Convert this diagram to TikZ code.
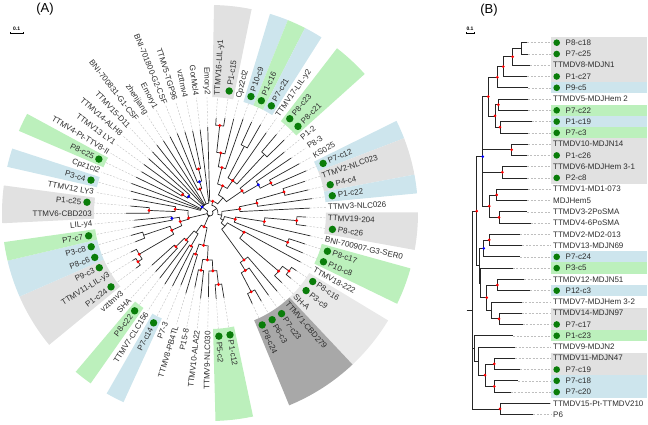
\documentclass[tikz,border=0pt]{standalone}
\usepackage{fontspec}
\setmainfont{Liberation Sans}
\usepackage{xcolor}

\definecolor{bandgray}{RGB}{225,225,225}
\definecolor{bandlight}{RGB}{233,233,233}
\definecolor{banddark}{RGB}{168,168,168}
\definecolor{bandblue}{RGB}{205,229,237}
\definecolor{bandgreen}{RGB}{188,240,188}
\definecolor{tipgreen}{RGB}{10,125,10}
\definecolor{labelgray}{RGB}{45,45,45}

\tikzset{
  branch/.style={draw=black!85, line width=0.7pt},
  guide/.style={draw=black!25, line width=0.4pt, dash pattern=on 2pt off 1.5pt},
  leaf/.style={inner sep=0pt, text=labelgray, font=\fontsize{8}{9}\selectfont},
  tipdot/.style={fill=tipgreen},
  rnode/.style={fill=red},
  bnode/.style={fill=blue},
  panel/.style={inner sep=0pt, font=\fontsize{13}{15}\selectfont},
  scalelbl/.style={inner sep=0pt, font=\bfseries\fontsize{5}{6}\selectfont},
}

% slot -> angle on the circle (clockwise, y runs down)
\newcommand{\ta}[1]{(-91.5+(#1-1)*5.217)}
% branch: arc at parent radius, then out to child radius
\newcommand{\br}[4]{\draw[branch] ({\ta{#1}}:#2) arc[start angle={\ta{#1}}, end angle={\ta{#3}}, radius=#2] -- ({\ta{#3}}:#4);}
% leaf branch with dotted guide to the label ring
\newcommand{\lf}[4]{\br{#1}{#2}{#3}{#4}\draw[guide] ({\ta{#3}}:#4) -- ({\ta{#3}}:116);}
% coloured band behind labels
\newcommand{\band}[3]{\fill[#1] ({\ta{#2-0.5}}:116) arc[start angle={\ta{#2-0.5}}, end angle={\ta{#3+0.5}}, radius=116] -- ({\ta{#3+0.5}}:208) arc[start angle={\ta{#3+0.5}}, end angle={\ta{#2-0.5}}, radius=208] -- cycle;}

\begin{document}
\begin{tikzpicture}[x=1pt,y=1pt,yscale=-1]
\useasboundingbox (0,0) rectangle (648,425);

% Text Node
\node[panel] (titleA) at (45,9) {(A)};
% Text Node
\node[panel] (titleB) at (489,10) {(B)};

% scale bars
\node[scalelbl] (sclA) at (16.7,29) {0.1};
\draw[line width=0.5pt] (10.5,31.8) -- (10.5,33.5) -- (23,33.5) -- (23,31.8);
\node[scalelbl] (sclB) at (470,29) {0.1};
\draw[line width=0.5pt] (466,31.8) -- (466,33.5) -- (474,33.5) -- (474,31.8);

%%%%%%%%%%%%%%%% (A) circular tree
\begin{scope}[shift={(210,213)}]
% bands
\foreach \c/\i/\j in {bandgray/2/3, bandblue/5/5, bandgreen/6/6, bandblue/7/7, bandgreen/9/10,
  bandblue/14/14, bandgray/15/16, bandblue/17/17, bandgray/19/20, bandgreen/22/23,
  bandlight/25/27, banddark/28/31, bandgreen/34/35, bandblue/41/41, bandgreen/43/43,
  bandgray/46/48, bandblue/49/50, bandgreen/51/51, bandgray/53/54, bandblue/56/56, bandgreen/58/58}
  {\band{\c}{\i}{\j}}

% top clade
\lf{2.5}{88}{2}{95} \lf{2.5}{88}{3}{96}
\br{3.25}{61}{2.5}{88} \lf{3.25}{61}{4}{97}
\br{4.1}{47}{3.25}{61} \lf{4.1}{47}{5}{100}
\lf{6.5}{75}{6}{100} \lf{6.5}{75}{7}{102}
\lf{9.5}{80}{9}{103} \lf{9.5}{80}{10}{104}
\br{8}{39.5}{6.5}{75} \lf{8}{39.5}{8}{98} \br{8}{39.5}{9.5}{80}
\br{6.05}{30}{4.1}{47} \br{6.05}{30}{8}{39.5}
\lf{13.5}{68}{13}{102} \lf{13.5}{68}{14}{105}
\lf{12.75}{56}{12}{98} \br{12.75}{56}{13.5}{68}
\lf{11.9}{39}{11}{96} \br{11.9}{39}{12.75}{56}
\br{9}{20}{6.05}{30} \br{9}{20}{11.9}{39}
\lf{3.8}{12}{1}{86} \br{3.8}{12}{9}{20}
% right clade
\lf{15.5}{77}{15}{100} \lf{15.5}{77}{16}{101}
\br{16.25}{48}{15.5}{77} \lf{16.25}{48}{17}{103}
\br{17.1}{30}{16.25}{48} \lf{17.1}{30}{18}{100}
\lf{19.5}{87}{19}{96} \lf{19.5}{87}{20}{97}
\br{20.25}{55}{19.5}{87} \lf{20.25}{55}{21}{103}
\lf{22.5}{83}{22}{100} \lf{22.5}{83}{23}{101}
\br{21.2}{26}{20.25}{55} \br{21.2}{26}{22.5}{83}
\lf{25.5}{98}{25}{104} \lf{25.5}{98}{26}{104}
\br{26.25}{90}{25.5}{98} \lf{26.25}{90}{27}{100}
\lf{24.2}{39}{24}{103} \br{24.2}{39}{26.25}{90}
\lf{30.5}{89}{30}{102} \lf{30.5}{89}{31}{100}
\lf{29.75}{67.5}{29}{101} \br{29.75}{67.5}{30.5}{89}
\lf{28.9}{58}{28}{103} \br{28.9}{58}{29.75}{67.5}
\br{26.5}{20}{24.2}{39} \br{26.5}{20}{28.9}{58}
\br{24}{15}{21.2}{26} \br{24}{15}{26.5}{20}
\br{20.5}{12}{17.1}{30} \br{20.5}{12}{24}{15}
\br{12}{8}{3.8}{12} \br{12}{8}{20.5}{12}
% bottom clade
\lf{34.5}{72}{34}{86} \lf{34.5}{72}{35}{86}
\br{35.25}{58}{34.5}{72} \lf{35.25}{58}{36}{84}
\lf{37.5}{58}{37}{86} \lf{37.5}{58}{38}{76}
\br{36.4}{47}{35.25}{58} \br{36.4}{47}{37.5}{58}
\lf{39.5}{43.5}{39}{84} \lf{39.5}{43.5}{40}{78}
\br{37.95}{33}{36.4}{47} \br{37.95}{33}{39.5}{43.5}
\lf{41.5}{38}{41}{82} \lf{41.5}{38}{42}{84}
\lf{44.5}{48}{44}{80} \lf{44.5}{48}{45}{78}
\lf{43.75}{36}{43}{82} \br{43.75}{36}{44.5}{48}
\br{42.6}{24}{41.5}{38} \br{42.6}{24}{43.75}{36}
\br{40.3}{15}{37.95}{33} \br{40.3}{15}{42.6}{24}
% left clade
\lf{46.5}{87}{46}{92} \lf{46.5}{87}{47}{91}
\br{47.25}{82}{46.5}{87} \lf{47.25}{82}{48}{88}
\lf{49.5}{70}{49}{80} \lf{49.5}{70}{50}{82}
\br{48.4}{42}{47.25}{82} \br{48.4}{42}{49.5}{70}
\lf{51.5}{38.5}{51}{78} \lf{51.5}{38.5}{52}{76}
\br{49.95}{31}{48.4}{42} \br{49.95}{31}{51.5}{38.5}
\lf{53.5}{61}{53}{84} \lf{53.5}{61}{54}{80}
\br{54.25}{35}{53.5}{61} \lf{54.25}{35}{55}{78}
\br{50.5}{22}{49.95}{31} \br{50.5}{22}{54.25}{35}
% upper left clade
\lf{59.5}{33}{59}{80} \lf{59.5}{33}{60}{82}
\br{60.25}{27}{59.5}{33} \lf{60.25}{27}{61}{82}
\lf{67.5}{45.5}{67}{85} \lf{67.5}{45.5}{68}{84}
\lf{66.75}{33}{66}{86} \br{66.75}{33}{67.5}{45.5}
\lf{65.9}{26}{65}{86} \br{65.9}{26}{66.75}{33}
\lf{60.2}{10}{56}{82} \lf{60.2}{10}{57}{84} \lf{60.2}{10}{58}{82} \br{60.2}{10}{60.25}{27}
\lf{60.2}{10}{62}{84} \lf{60.2}{10}{63}{86} \lf{60.2}{10}{64}{86} \br{60.2}{10}{65.9}{26}
\lf{60.2}{10}{69}{84}
% root
\br{36}{3}{12}{8} \br{36}{3}{40.3}{15} \br{36}{3}{50.5}{22} \br{36}{3}{60.2}{10}

% support marks
\foreach \s/\r in {2.5/88, 3.25/61, 4.1/47, 8/39.5, 6.05/30, 13.5/68, 11.9/39, 3.8/12,
  15.5/77, 16.25/48, 17.1/30, 19.5/87, 20.25/55, 22.5/83, 21.2/26, 25.5/98, 26.25/90,
  24.2/39, 30.5/89, 29.75/67.5, 28.9/58, 34.5/72, 35.25/58, 37.5/58, 36.4/47, 37.95/33,
  39.5/43.5, 41.5/38, 44.5/48, 43.75/36, 40.3/15, 46.5/87, 47.25/82, 48.4/42, 49.95/31,
  53.5/61, 54.25/35, 50.5/22, 59.5/33, 67.5/45.5, 65.9/26}
  \fill[rnode] ({\ta{\s}}:\r) circle (1.6);
\foreach \s/\r in {12.75/56, 51.5/38.5, 60.25/27, 66.75/33, 60.2/10}
  \fill[bnode] ({\ta{\s}}:\r) circle (1.6);

% leaf labels
\foreach \s/\txt/\d in {1/Emory2/0, 2/TTMV16-LIL-y1/0, 3/P1-c15/1, 4/Cpz2cl2/0, 5/P10-c9/1,
  6/P1-c16/1, 7/P7-c21/1, 8/TTMV17-LIL-y2/0, 9/P8-c23/1, 10/P8-c21/1, 11/P1-2/0, 12/P8-3/0,
  13/KS025/0, 14/P7-c12/1, 15/TTMV2-NLC023/0, 16/P4-c4/1, 17/P1-c22/1, 18/TTMV3-NLC026/0,
  19/TTMV19-204/0, 20/P8-c26/1, 21/BNI-700907-G3-SER0/0, 22/P8-c17/1, 23/P10-c8/1,
  24/TTMV18-222/0, 25/P8-c16/1, 26/P3-c9/1, 27/SH-A/0, 28/TTMV1-CBD279/0, 29/P7-c23/1,
  30/P6-c3/1, 31/P8-c24/1, 34/P1-c12/1, 35/P5-c2/1, 36/TTMV9-NLC030/0, 37/TTMV10-ALA22/0,
  38/P15-8/0, 39/TTMV8-PB4TL/0, 40/P7-3/0, 41/P7-c14/1, 42/TTMV7-CLC156/0, 43/P8-c22/1,
  44/SHA/0, 45/vzttmv3/0, 46/P1-c24/1, 47/TTMV11-LIL-y3/0, 48/P9-c3/1, 49/P8-c6/1,
  50/P3-c8/1, 51/P7-c7/1, 52/LIL-y4/0, 53/TTMV6-CBD203/0, 54/P1-c25/1, 55/TTMV12 LY3/0,
  56/P3-c4/1, 57/Cpz1cl2/0, 58/P8-c25/1, 59/TTMV4-Pt-TTV8-II/0, 60/TTMV13 LY1/0,
  61/TTMV14-ALH8/0, 62/TTMV15-D11/0, 63/BNI-700831-G1-CSF/0, 64/zhenjiang/0, 65/Emory1/0,
  66/BNI-701800-G2-CSF/0, 67/TTMV5-TGP96/0, 68/vzttmv4/0, 69/GorMcl4/0}{
  \pgfmathsetmacro\ang{-91.5+(\s-1)*5.217}
  \pgfmathtruncatemacro\rside{cos(\ang)>0}
  \pgfmathsetmacro\rt{\d==1 ? 129 : 118}
  \ifnum\rside=1
    \pgfmathsetmacro\rot{-1*(\ang)}
    \node[leaf, anchor=west, rotate=\rot] (A\s) at (\ang:\rt) {\txt};
  \else
    \pgfmathsetmacro\rot{180-(\ang)}
    \node[leaf, anchor=east, rotate=\rot] (A\s) at (\ang:\rt) {\txt};
  \fi
  \ifnum\d=1 \fill[tipdot] (\ang:123.5) circle (3.7);\fi
}
\end{scope}

%%%%%%%%%%%%%%%% (B) rectangular tree
\coordinate (gx) at (551,0);
% bands
\foreach \c/\i/\j in {bandgray/1/4, bandblue/5/5, bandgreen/7/7, bandblue/8/8, bandgreen/9/9,
  bandgray/10/13, bandblue/20/20, bandgreen/21/21, bandblue/23/23, bandgray/25/26,
  bandgreen/27/27, bandgray/29/30, bandblue/31/32}
  \fill[\c] (551,{42.7+(\i-1)*11.27-5.63}) rectangle (647,{42.7+(\j-1)*11.27+5.63});

% leaves
\foreach \i/\x in {1/527.3, 2/528.3, 3/530, 4/527.3, 5/528.3, 6/528, 7/528, 8/531.7, 9/528,
  10/528.3, 11/526.7, 12/527.3, 13/527.3, 14/528.3, 15/527.3, 16/527.3, 17/530.7, 18/520,
  19/522.3, 20/520, 21/512.7, 22/524, 23/530, 24/521.7, 25/521.7, 26/522.7, 27/513.3,
  28/515, 29/515, 30/520, 31/518.3, 32/510.7, 33/550, 34/533.3}
  \coordinate (t\i) at (\x,{42.7+(\i-1)*11.27});

% inner nodes
\coordinate (n1) at (521.7,48.34);
\coordinate (n2) at (512.7,56.79);
\coordinate (n3) at (503.3,66.65);
\coordinate (n4) at (497.3,77.2);
\coordinate (n5) at (498.3,104.7);
\coordinate (n6) at (500,127.2);
\coordinate (n7) at (495,115.95);
\coordinate (n8) at (488.3,96.6);
\coordinate (n9) at (511.7,149.77);
\coordinate (n10) at (502.3,172.3);
\coordinate (n12) at (482.7,156.7);
\coordinate (n13) at (499,217.39);
\coordinate (n14) at (489.3,206.12);
\coordinate (n15) at (496.7,194.85);
\coordinate (n16) at (489.3,239.93);
\coordinate (n17) at (483.7,248.38);
\coordinate (n18) at (497.3,285);
\coordinate (n19) at (499,318.82);
\coordinate (n20) at (491,310.36);
\coordinate (n21) at (486.7,297.68);
\coordinate (n22) at (480.5,282.89);
\coordinate (n23) at (479.3,265.6);
\coordinate (n24) at (476.7,211.15);
\coordinate (n25) at (494.3,363.9);
\coordinate (n26) at (494.3,386.44);
\coordinate (n27) at (485,375.17);
\coordinate (n28) at (478.5,361.08);
\coordinate (n29) at (474.5,348.4);
\coordinate (n30) at (500,408.98);
\coordinate (root) at (472.3,310.07);
\coordinate (rootend) at (466.7,310.07);

\foreach \i in {1,...,34} \draw[guide] (t\i) -- (t\i -| gx);

\foreach \p/\c in {n1/t1, n1/t2, n2/n1, n2/t3, n3/n2, n3/t4, n4/n3, n4/t5, n5/t6, n5/t7,
  n6/t8, n6/t9, n7/n5, n7/n6, n8/n4, n8/n7, n9/t10, n9/t11, n10/t12, n10/t13, n15/t14,
  n15/t15, n13/t16, n13/t17, n14/n15, n14/n13, n12/n8, n12/n9, n12/n10, n12/n14,
  n16/t18, n16/t19, n17/n16, n17/t20, n18/t22, n18/t23, n19/t25, n19/t26, n20/t24,
  n20/n19, n21/n18, n21/n20, n22/t21, n22/n21, n23/n17, n23/n22, n24/n12, n24/n23,
  n25/t29, n25/t30, n26/t31, n26/t32, n27/n25, n27/n26, n28/t28, n28/n27, n29/t27,
  n29/n28, n30/t33, n30/t34, root/n24, root/n29, root/n30}
  \draw[branch] (\p) |- (\c);
\draw[branch] (rootend) -- (root);

\foreach \n in {n2,n3,n4,n5,n6,n7,n8,n9,n10,n13,n14,n15,n16,n18,n19,n21,n24,n25,n26,n27,n30}
  \fill[rnode] (\n) circle (1.5);
\foreach \n in {n12,n17}
  \fill[bnode] (\n) circle (1.5);

% labels
\foreach \i/\txt/\d in {1/P8-c18/1, 2/P7-c25/1, 3/TTMDV8-MDJN1/0, 4/P1-c27/1, 5/P9-c5/1,
  6/TTMDV5-MDJHem 2/0, 7/P7-c22/1, 8/P1-c19/1, 9/P7-c3/1, 10/TTMDV10-MDJN14/0, 11/P1-c26/1,
  12/TTMDV6-MDJHem 3-1/0, 13/P2-c8/1, 14/TTMDV1-MD1-073/0, 15/MDJHem5/0, 16/TTMDV3-2PoSMA/0,
  17/TTMDV4-6PoSMA/0, 18/TTMDV2-MD2-013/0, 19/TTMDV13-MDJN69/0, 20/P7-c24/1, 21/P3-c5/1,
  22/TTMDV12-MDJN51/0, 23/P12-c3/1, 24/TTMDV7-MDJHem 3-2/0, 25/TTMDV14-MDJN97/0,
  26/P7-c17/1, 27/P1-c23/1, 28/TTMDV9-MDJN2/0, 29/TTMDV11-MDJN47/0, 30/P7-c19/1,
  31/P7-c18/1, 32/P7-c20/1, 33/TTMDV15-Pt-TTMDV210/0, 34/P6/0}{
  \pgfmathsetmacro\yy{42.7+(\i-1)*11.27}
  \ifnum\d=1
    \fill[tipdot] (556.7,\yy) circle (3.3);
    \node[leaf, anchor=west] (B\i) at (565.5,\yy) {\txt};
  \else
    \node[leaf, anchor=west] (B\i) at (553,\yy) {\txt};
  \fi
}
\end{tikzpicture}
\end{document}
